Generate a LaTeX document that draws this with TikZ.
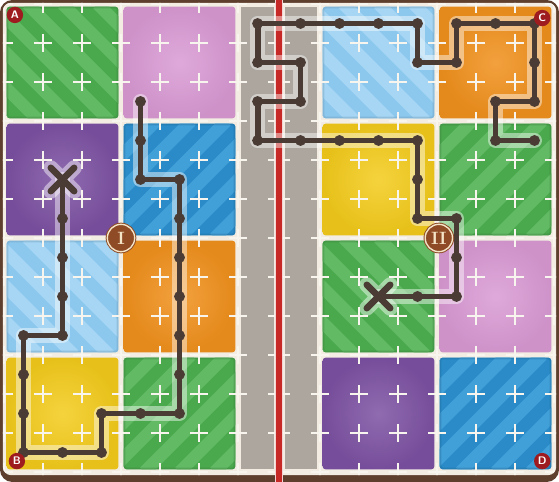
\documentclass[tikz,border=0pt]{standalone}
\usepackage{tikz}

\definecolor{frame}{HTML}{5E3E2C}
\definecolor{cream}{HTML}{F2ECE3}
\definecolor{plusw}{HTML}{F8F4EE}
\definecolor{tgray}{HTML}{ACA69F}
\definecolor{tgreen}{HTML}{4AA84D}
\definecolor{tgreenS}{HTML}{62BA64}
\definecolor{tpink}{HTML}{D99AD4}
\definecolor{tpurple}{HTML}{7C51A2}
\definecolor{tblue}{HTML}{2A8BC8}
\definecolor{tblueS}{HTML}{42A0D8}
\definecolor{tsky}{HTML}{8CC8EE}
\definecolor{tskyS}{HTML}{A6D6F4}
\definecolor{torange}{HTML}{F0901C}
\definecolor{tyellow}{HTML}{F3CB1B}
\definecolor{trailbrown}{HTML}{4A3B34}
\definecolor{badgered}{HTML}{9E1C1F}
\definecolor{romanbrown}{HTML}{8E4B25}
\definecolor{romancream}{HTML}{F4E4C8}
\definecolor{dividerred}{HTML}{C72A26}

\begin{document}
\begin{tikzpicture}[x=1cm,y=-1cm,
    tile/.style={rounded corners=2pt},
    plusmark/.style={line width=1.5pt,color=plusw},
    glow/.style={line width=11pt,white,opacity=.45,line join=round,line cap=round},
    trail/.style={line width=4.3pt,color=trailbrown,line join=round},
    xmark/.style={line width=4.8pt,color=trailbrown,line cap=round},
    letterbadge/.style={circle,fill=badgered,text=white,inner sep=0pt,minimum size=.42cm,font=\sffamily\bfseries\footnotesize},
    romanbadge/.style={circle,fill=romanbrown,draw=romanbrown,double=romancream,double distance=1pt,line width=.7pt,text=romancream,inner sep=0pt,minimum size=.7cm,font=\bfseries\fontsize{13}{13}\selectfont}]
  \useasboundingbox (-0.1026,-0.1026) rectangle (14.2308,12.2564);
  % frame
  \fill[frame,rounded corners=9pt] (-0.1026,-0.1026) rectangle (14.2308,12.2564);
  \fill[cream,rounded corners=6pt] (-0.03,-0.03) rectangle (14.16,12.08);
  \begin{scope}
    \clip[rounded corners=6pt] (-0.03,-0.03) rectangle (14.16,12.08);
    % gray strips
    \fill[tgray] (6.08,.07) rectangle (6.92,11.93);
    \fill[tgray] (7.2,.07) rectangle (8.03,11.93);
    % plain tiles
    \foreach \x/\y/\c in {3/0/tpink, 0/3/tpurple, 3/6/torange, 0/9/tyellow,
        11.1026/0/torange, 8.1026/3/tyellow, 11.1026/6/tpink, 8.1026/9/tpurple}
      \shade[tile,inner color=\c!85!white,outer color=\c!95!black] (\x+.07,\y+.07) rectangle (\x+2.93,\y+2.93);
    % striped tiles
    \foreach \x/\y/\c/\cs/\a/\b in {0/0/tgreen/tgreenS/0/3, 3/3/tblue/tblueS/3/0,
        0/6/tsky/tskyS/0/3, 3/9/tgreen/tgreenS/3/0, 8.1026/0/tsky/tskyS/0/3,
        11.1026/3/tgreen/tgreenS/3/0, 8.1026/6/tgreen/tgreenS/0/3, 11.1026/9/tblue/tblueS/3/0}{
      \begin{scope}
        \clip[tile] (\x+.07,\y+.07) rectangle (\x+2.93,\y+2.93);
        \fill[\c] (\x,\y) rectangle (\x+3,\y+3);
        \foreach \t in {-3,-2.1,...,3}
          \draw[line width=9pt,\cs] (\x+\t,\y+\a) -- (\x+\t+3,\y+\b);
        \draw[tile,\c!75!black,opacity=.35,line width=2.5pt] (\x+.07,\y+.07) rectangle (\x+2.93,\y+2.93);
      \end{scope}}
    % plus marks on every grid point
    \foreach \ox in {0,7.1026}
      \foreach \i in {0,...,7}
        \foreach \j in {0,...,12}
          \draw[plusmark] (\ox+\i-.22,\j) -- (\ox+\i+.22,\j) (\ox+\i,\j-.22) -- (\ox+\i,\j+.22);
  \end{scope}
  % divider
  \draw[line width=6pt,white!80!dividerred] (7.0513,-0.1026) -- (7.0513,12.2564);
  \draw[line width=3.8pt,dividerred] (7.0513,-0.1026) -- (7.0513,12.2564);

  % trail I
  \foreach \x/\y [count=\k] in {3.5/2.5, 3.5/3.5, 3.5/4.5, 4.5/4.5, 4.5/5.5, 4.5/6.5,
      4.5/7.5, 4.5/8.5, 4.5/9.5, 4.5/10.5, 3.5/10.5, 2.5/10.5, 2.5/11.5, 1.5/11.5,
      0.5/11.5, 0.5/10.5, 0.5/9.5, 0.5/8.5, 1.5/8.5, 1.5/7.5, 1.5/6.5, 1.5/5.5, 1.5/4.5}
    \coordinate (a\k) at (\x,\y);
  \draw[glow] (a1) \foreach \k in {2,...,23} {-- (a\k)};
  \draw[glow,shift={(a23)}] (-.3,-.3) -- (.3,.3) (-.3,.3) -- (.3,-.3);
  \draw[trail] (a1) \foreach \k in {2,...,23} {-- (a\k)};
  \foreach \k in {1,...,22}
    \fill[trailbrown] (a\k) circle (.14);
  \draw[xmark,shift={(a23)}] (-.3,-.3) -- (.3,.3) (-.3,.3) -- (.3,-.3);

  % trail II
  \begin{scope}[shift={(7.1026,0)}]
    \foreach \x/\y [count=\k] in {6.5/3.5, 5.5/3.5, 5.5/2.5, 6.5/2.5, 6.5/1.5, 6.5/0.5,
        5.5/0.5, 4.5/0.5, 4.5/1.5, 3.5/1.5, 3.5/0.5, 2.5/0.5, 1.5/0.5, 0.5/0.5,
        -0.6/0.5, -0.6/1.5, 0.5/1.5, 0.5/2.5, -0.6/2.5, -0.6/3.5, 0.5/3.5, 1.5/3.5,
        2.5/3.5, 3.5/3.5, 3.5/4.5, 3.5/5.5, 4.5/5.5, 4.5/6.5, 4.5/7.5, 3.5/7.5, 2.5/7.5}
      \coordinate (b\k) at (\x,\y);
  \end{scope}
  \draw[glow] (b1) \foreach \k in {2,...,31} {-- (b\k)};
  \draw[glow,shift={(b31)}] (-.3,-.3) -- (.3,.3) (-.3,.3) -- (.3,-.3);
  \draw[trail] (b1) \foreach \k in {2,...,31} {-- (b\k)};
  \foreach \k in {1,...,30}
    \fill[trailbrown] (b\k) circle (.14);
  \draw[xmark,shift={(b31)}] (-.3,-.3) -- (.3,.3) (-.3,.3) -- (.3,-.3);

  % badges
  \node[letterbadge] (bA) at (0.28,0.28) {A};
  \node[letterbadge] (bB) at (0.33,11.72) {B};
  \node[letterbadge] (bC) at (13.8,0.36) {C};
  \node[letterbadge] (bD) at (13.8,11.72) {D};
  \node[romanbadge] (rI) at (3,6) {I};
  \node[romanbadge] (rII) at (11.15,6) {II};
\end{tikzpicture}
\end{document}
